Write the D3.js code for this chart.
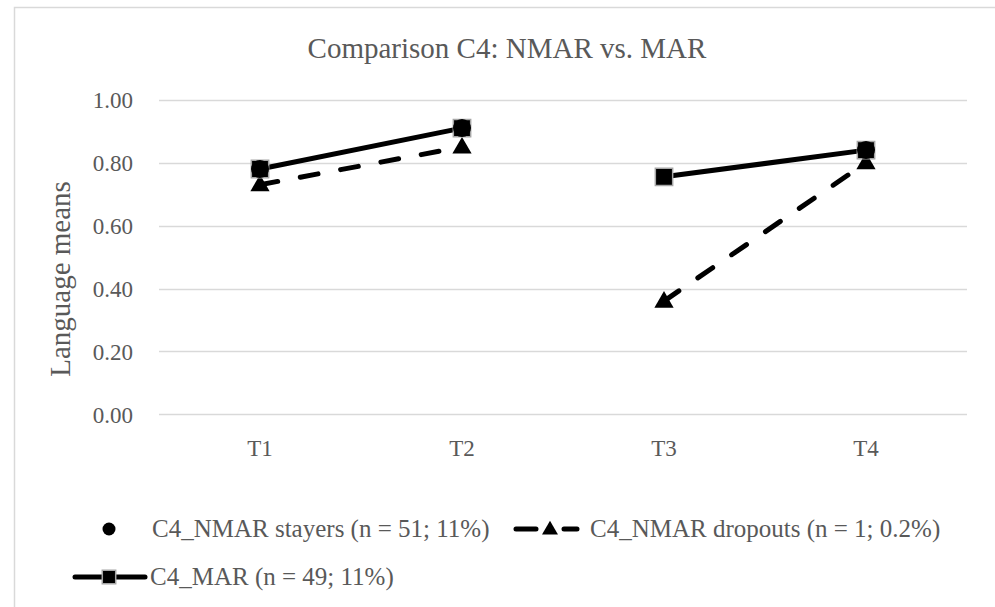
<!DOCTYPE html>
<html>
<head>
<meta charset="utf-8">
<script src="https://cdn.jsdelivr.net/npm/d3@7"></script>
<style>
  html, body { margin: 0; padding: 0; background: #fff; }
  svg { display: block; }
  text { font-family: "Liberation Serif", "DejaVu Serif", serif; fill: #595959; }
</style>
</head>
<body>
<svg id="chart" width="995" height="607"></svg>
<script>
// ---- data ----
const categories = ["T1", "T2", "T3", "T4"];
const stayersValues = [0.78, 0.91, null, 0.84];
const dropoutsValues = [0.73, 0.85, 0.36, 0.80];
const marValues = [0.78, 0.91, 0.755, 0.84];
const connectedSegments = [["T1", "T2"], ["T3", "T4"]];
const yTicks = [0, 0.2, 0.4, 0.6, 0.8, 1.0];
const titleText = "Comparison C4: NMAR vs. MAR";
const yAxisTitle = "Language means";
const legendLabels = [
  "C4_NMAR stayers (n = 51; 11%)",
  "C4_NMAR dropouts (n = 1; 0.2%)",
  "C4_MAR (n = 49; 11%)"
];

// ---- layout ----
const svg = d3.select("#chart");
const plot = { left: 159, right: 967, top: 99.8, bottom: 414.3 };
const x = d3.scaleBand().domain(categories).range([plot.left, plot.right]).padding(0);
const y = d3.scaleLinear().domain([0, 1]).range([plot.bottom, plot.top]);
const cx = c => x(c) + x.bandwidth() / 2;

// chart border
svg.append("rect").attr("x", 14.5).attr("y", 7.5).attr("width", 1000).attr("height", 700)
  .attr("fill", "none").attr("stroke", "#d9d9d9").attr("stroke-width", 1.5);

// title
svg.append("text").attr("x", 507).attr("y", 58).attr("text-anchor", "middle")
  .style("font-size", "29px").text(titleText);

// gridlines
svg.append("g").selectAll("line").data(yTicks).join("line")
  .attr("x1", plot.left).attr("x2", plot.right)
  .attr("y1", d => Math.round(y(d)) + 0.5).attr("y2", d => Math.round(y(d)) + 0.5)
  .attr("stroke", "#d9d9d9").attr("stroke-width", 1.5);

// y axis
const yAxis = d3.axisLeft(y).tickValues(yTicks).tickFormat(d3.format(".2f")).tickSize(0).tickPadding(0);
const yg = svg.append("g").attr("transform", `translate(133,0)`).call(yAxis);
yg.select(".domain").remove();
yg.selectAll("text").style("font-size", "23px").style("font-family", null).attr("fill", "#595959").attr("dy", "0.34em");

// x axis
const xAxis = d3.axisBottom(x).tickSize(0).tickPadding(0);
const xg = svg.append("g").attr("transform", `translate(0,${plot.bottom})`).call(xAxis);
xg.select(".domain").remove();
xg.selectAll("text").style("font-size", "23px").style("font-family", null).attr("fill", "#595959").attr("dy", "0").attr("y", 42);

// y axis title
svg.append("text").attr("transform", "translate(70,279) rotate(-90)").attr("text-anchor", "middle")
  .style("font-size", "29px").text(yAxisTitle);

// ---- series ----
const lineGen = d3.line().x(d => cx(d.c)).y(d => y(d.v));
function segmentsFor(values) {
  return connectedSegments.map(seg => seg.map(c => ({ c, v: values[categories.indexOf(c)] })))
    .filter(seg => seg.every(p => p.v != null));
}
const pts = values => categories.map((c, i) => ({ c, v: values[i] })).filter(p => p.v != null);

// dropouts dashed line
svg.append("g").selectAll("path").data(segmentsFor(dropoutsValues)).join("path")
  .attr("d", lineGen).attr("fill", "none").attr("stroke", "#000").attr("stroke-width", 5)
  .attr("stroke-linecap", "round").attr("stroke-dasharray", "18 23");

// MAR solid line
svg.append("g").selectAll("path").data(segmentsFor(marValues)).join("path")
  .attr("d", lineGen).attr("fill", "none").attr("stroke", "#000").attr("stroke-width", 5);

const triangle = d3.symbol().type(d3.symbolTriangle).size(160);
const square = d3.symbol().type(d3.symbolSquare).size(300);

// triangles
svg.append("g").selectAll("path").data(pts(dropoutsValues)).join("path")
  .attr("transform", d => `translate(${cx(d.c)},${y(d.v) + 1})`).attr("d", triangle)
  .attr("fill", "#000");

// squares
svg.append("g").selectAll("path").data(pts(marValues)).join("path")
  .attr("transform", d => `translate(${cx(d.c)},${y(d.v)})`).attr("d", square)
  .attr("fill", "#000").attr("stroke", "#a6a6a6").attr("stroke-width", 1.5);

// circles
svg.append("g").selectAll("circle").data(pts(stayersValues)).join("circle")
  .attr("cx", d => cx(d.c)).attr("cy", d => y(d.v)).attr("r", 9).attr("fill", "#000");

// ---- legend ----
const lg = svg.append("g");
const fs = "25px";
// row 1: stayers
lg.append("circle").attr("cx", 109).attr("cy", 529).attr("r", 6.5).attr("fill", "#000");
lg.append("text").attr("x", 152).attr("y", 537).style("font-size", fs).text(legendLabels[0]);
// row 1: dropouts
lg.append("line").attr("x1", 516).attr("x2", 577).attr("y1", 529).attr("y2", 529)
  .attr("stroke", "#000").attr("stroke-width", 5).attr("stroke-linecap", "round").attr("stroke-dasharray", "20 28");
lg.append("path").attr("transform", "translate(550,530)").attr("d", d3.symbol().type(d3.symbolTriangle).size(110)).attr("fill", "#000");
lg.append("text").attr("x", 590).attr("y", 537).style("font-size", fs).text(legendLabels[1]);
// row 2: MAR
lg.append("line").attr("x1", 75).attr("x2", 145).attr("y1", 577).attr("y2", 577)
  .attr("stroke", "#000").attr("stroke-width", 5).attr("stroke-linecap", "round");
lg.append("path").attr("transform", "translate(109,577)").attr("d", d3.symbol().type(d3.symbolSquare).size(180))
  .attr("fill", "#000").attr("stroke", "#a6a6a6").attr("stroke-width", 1.5);
lg.append("text").attr("x", 150).attr("y", 585).style("font-size", fs).text(legendLabels[2]);
</script>
</body>
</html>
